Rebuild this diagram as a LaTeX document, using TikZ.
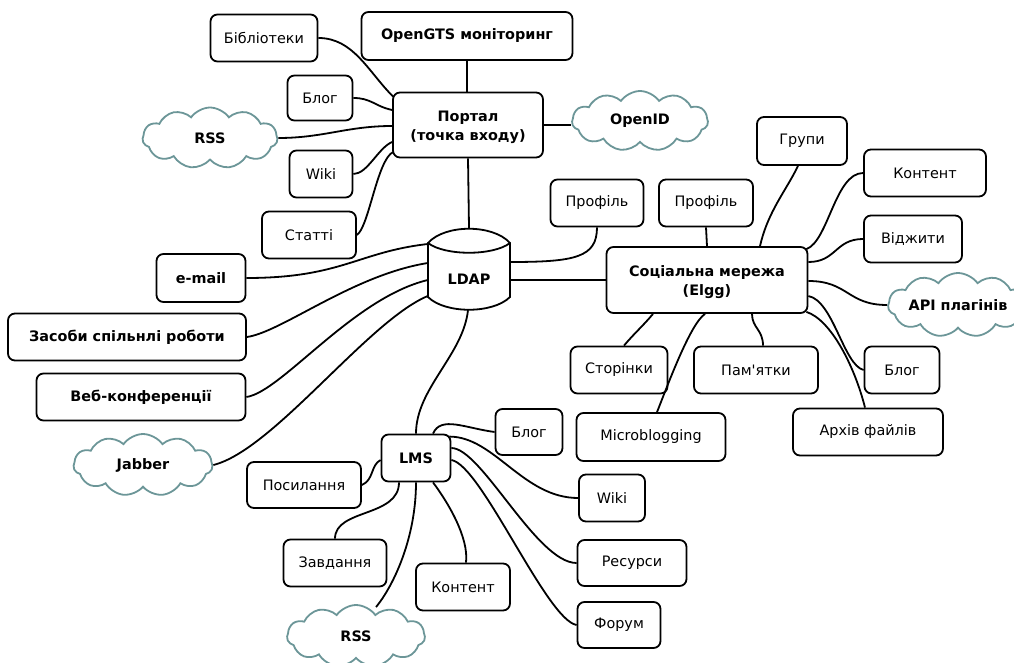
\documentclass[tikz,border=0pt]{standalone}
\usepackage{fontspec}
\setmainfont{DejaVu Sans}
\usetikzlibrary{shapes.symbols,calc}
\definecolor{cloudc}{RGB}{108,150,152}
\tikzset{
 box/.style={draw, rounded corners=7pt, line width=1.8pt, inner sep=0pt, align=center},
 sz/.style 2 args={minimum width=#1pt, minimum height=#2pt},
 bb/.style={font=\bfseries},
 cl/.style={cloud, cloud puffs=11, cloud puff arc=110, cloud ignores aspect, draw=cloudc, line width=1.8pt, inner sep=0pt, font=\bfseries},
 con/.style={line width=1.8pt},
}
\begin{document}
\fontsize{14.4}{19.5}\selectfont
\begin{tikzpicture}[x=1pt,y=-1pt]
\clip (0,0) rectangle (1014,663);
% top portal cluster
\node[box,sz={107}{47}] (bib) at (264,38) {Бібліотеки};
\node[box,bb,sz={211}{48}] (gts) at (467,36) {OpenGTS моніторинг};
\node[box,sz={65}{45}] (blog1) at (320,98) {Блог};
\node[box,bb,sz={150}{65}] (portal) at (468,125) {\rule{0pt}{15pt}Портал\\(точка входу)};
\node[cl,sz={135}{61}] (rss1) at (210,138) {RSS};
\node[cl,sz={136}{60}] (openid) at (640,121) {OpenID};
\node[box,sz={63}{47}] (wiki1) at (321,174) {Wiki};
\node[box,sz={94}{47}] (stat) at (309,235) {Статті};
% LDAP
\node[minimum width=82pt, minimum height=82pt, inner sep=0pt] (ldap) at (469,269) {};
\draw[con, shift={(ldap.center)}] (-41,-26) .. controls (-24,-45) and (24,-45) .. (41,-26) -- (41,28)
  .. controls (24,45) and (-24,45) .. (-41,28) -- cycle;
\draw[con, shift={(ldap.center)}] (-41,-26) .. controls (-24,-13) and (24,-13) .. (41,-26);
\node[bb] (ldaptxt) at (469,279) {LDAP};
% social network
\node[box,sz={93}{47}] (prof1) at (597,203) {Профіль};
\node[box,sz={94}{47}] (prof2) at (706,203) {Профіль};
\node[box,sz={90}{48}] (grp) at (802,141) {Групи};
\node[box,sz={122}{47}] (kont1) at (925,173) {Контент};
\node[box,sz={98}{47}] (vidg) at (913,239) {Віджити};
\node[box,bb,sz={201}{66}] (soc) at (707,280) {\rule{0pt}{15pt}Соціальна мережа\\(Elgg)};
\node[cl,sz={140}{64}] (api) at (958,305) {API плагінів};
\node[box,sz={97}{47}] (stor) at (619,370) {Сторінки};
\node[box,sz={124}{47}] (pam) at (756,370) {Пам\textquotesingle ятки};
\node[box,sz={75}{47}] (blog2) at (902,370) {Блог};
\node[box,sz={149}{48}] (micro) at (651,437) {Microblogging};
\node[box,sz={150}{47}] (arch) at (868,432) {Архів файлів};
% left
\node[box,bb,sz={89}{48}] (email) at (201,278) {e-mail};
\node[box,bb,sz={238}{47}] (zasoby) at (127,337) {Засоби спільнлі роботи};
\node[box,bb,sz={209}{47}] (veb) at (141,397) {Веб-конференції};
\node[cl,sz={139}{62}] (jabber) at (143,465) {Jabber};
% LMS
\node[box,bb,sz={69}{47}] (lms) at (416,458) {LMS};
\node[box,sz={67}{46}] (blog3) at (529,432) {Блог};
\node[box,sz={114}{46}] (posyl) at (304,485) {Посилання};
\node[box,sz={66}{47}] (wiki3) at (612,498) {Wiki};
\node[box,sz={103}{47}] (zavd) at (335,563) {Завдання};
\node[box,sz={109}{46}] (resursy) at (632,563) {Ресурси};
\node[box,sz={94}{47}] (kont3) at (463,587) {Контент};
\node[box,sz={83}{46}] (forum) at (619,625) {Форум};
\node[cl,sz={138}{62}] (rss2) at (356,636) {RSS};

% connectors: portal
\draw[con] (gts.south) -- (gts.south |- portal.north);
\draw[con] (bib.east) .. controls +(35,0) and +(-25,-25) .. ($(portal.north west)+(1,5)$);
\draw[con] (blog1.east) .. controls +(18,0) and +(-18,-4) .. ($(portal.west)+(0,-15)$);
\draw[con] (rss1.east) .. controls +(45,0) and +(-45,0) .. ($(portal.west)+(0,1)$);
\draw[con] (wiki1.east) .. controls +(14,0) and +(-14,6) .. ($(portal.west)+(0,17)$);
\draw[con] (stat.east) .. controls +(12,-8) and +(-16,8) .. ($(portal.west)+(1,27)$);
\draw[con] (portal.south) -- (ldap.north);
\draw[con] (portal.east) -- (portal.east -| openid.west);
% LDAP right
\draw[con] ($(ldap.east)+(0,-7)$) .. controls +(65,0) and +(0,30) .. (prof1.south);
\draw[con] (soc.west -| ldap.east) -- (soc.west);
% social
\draw[con] (prof2.south) -- (soc.north);
\draw[con] ($(grp.south)+(-4,0)$) .. controls +(-12,25) and +(8,-35) .. ($(soc.north)+(53,0)$);
\draw[con] (kont1.west) .. controls +(-28,0) and +(22,-8) .. ($(soc.north east)+(-2,3)$);
\draw[con] (vidg.west) .. controls +(-28,0) and +(28,0) .. ($(soc.east)+(0,-18)$);
\draw[con] ($(soc.east)+(0,1)$) .. controls +(40,0) and +(-40,0) .. (api.west);
\draw[con] ($(soc.east)+(0,16)$) .. controls +(25,5) and +(-20,-5) .. (blog2.west);
\draw[con] ($(soc.south east)+(-2,-2)$) .. controls +(25,8) and +(-10,-40) .. ($(arch.north)+(-3,0)$);
\draw[con] ($(soc.south)+(45,0)$) .. controls +(0,14) and +(0,-16) .. ($(pam.north)+(7,0)$);
\draw[con] ($(soc.south)+(-2,0)$) .. controls +(-15,10) and +(10,-25) .. ($(micro.north)+(6,0)$);
\draw[con] ($(soc.south)+(-54,0)$) .. controls +(-10,12) and +(10,-12) .. ($(stor.north)+(5,0)$);
% LDAP left
\draw[con] (email.east) .. controls +(95,0) and +(-70,8) .. ($(ldap.west)+(0,-25)$);
\draw[con] (zasoby.east) .. controls +(35,-5) and +(-75,12) .. ($(ldap.west)+(0,-6)$);
\draw[con] (veb.east) .. controls +(35,-5) and +(-75,18) .. ($(ldap.west)+(0,11)$);
\draw[con] (jabber.east) .. controls +(60,-15) and +(-60,25) .. ($(ldap.west)+(0,27)$);
\draw[con] ($(ldap.south)+(-1,0)$) .. controls +(-5,45) and +(0,-45) .. (lms.north);
% LMS
\draw[con] ($(lms.north)+(17,0)$) .. controls +(8,-18) and +(-30,-4) .. (blog3.west);
\draw[con] ($(lms.north east)+(-2,3)$) .. controls +(45,0) and +(-55,0) .. (wiki3.west);
\draw[con] ($(lms.east)+(0,-10)$) .. controls +(30,0) and +(-40,0) .. (resursy.west);
\draw[con] ($(lms.east)+(0,2)$) .. controls +(30,5) and +(-30,-5) .. (forum.west);
\draw[con] ($(lms.south)+(17,0)$) .. controls +(15,20) and +(3,-25) .. ($(kont3.north)+(3,0)$);
\draw[con] (lms.south) .. controls +(0,55) and +(18,-22) .. ($(rss2.north)+(20,3)$);
\draw[con] ($(lms.south)+(-17,0)$) .. controls +(0,35) and +(0,-30) .. (zavd.north);
\draw[con] (posyl.east) .. controls +(12,-5) and +(-10,5) .. ($(lms.west)+(0,2)$);
\end{tikzpicture}
\end{document}
